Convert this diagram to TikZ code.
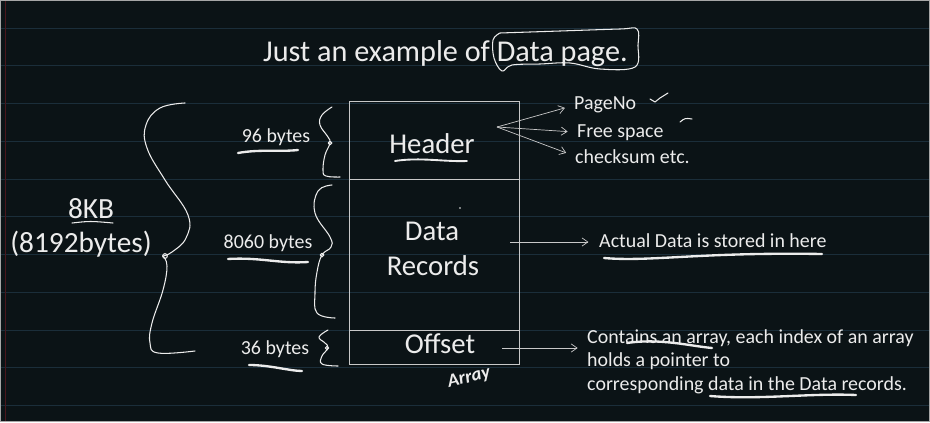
\documentclass[tikz,border=0pt]{standalone}
\usepackage{fontspec}
\setmainfont{Carlito}
\usetikzlibrary{arrows.meta, calc, positioning}
\definecolor{board}{RGB}{11,19,22}
\definecolor{ruling}{RGB}{27,46,58}
\definecolor{marginred}{RGB}{74,22,28}
\definecolor{chalk}{RGB}{236,236,236}
\definecolor{boxline}{RGB}{200,200,200}

\tikzset{
  txt/.style={text=chalk, inner sep=0pt},
  handline/.style={draw=chalk, line width=0.9pt, line cap=round, line join=round},
  scrawl/.style={draw=chalk, line width=2pt, line cap=round},
  pointer/.style={draw=boxline, line width=0.6pt, -{Straight Barb[length=5pt,width=7pt]}},
  pagepart/.style={draw=boxline, line width=0.7pt, minimum width=5.1cm, inner sep=0pt},
}

\begin{document}
\begin{tikzpicture}[x=0.03cm, y=-0.03cm]
    \fill[board] (0,0) rectangle (930,422);
    \useasboundingbox (0,0) rectangle (930,422);
    \foreach \k in {0,...,10}
        \draw[ruling, line width=0.8pt] (0,{28+37.75*\k}) -- (930,{28+37.75*\k});
    \draw[marginred, line width=1pt] (5.5,0) -- (5.5,422);
    \draw[gray!70, line width=0.8pt] (0.5,0.5) rectangle (929.5,421.5);

    % title
    \node[txt, anchor=base west, font=\fontsize{25.8}{30}\selectfont] (title) at (263,62) {Just an example of Data page.};
    \draw[handline] plot[smooth, tension=0.6] coordinates {(500,33) (560,31) (620,29) (637,29) (638,45) (635,67) (600,69) (570,63) (540,64) (512,65) (502,71) (494,58) (493,40) (500,33)};

    % the page
    \node[pagepart, minimum height=2.34cm] (header) at (434,140) {};
    \node[pagepart, minimum height=4.53cm] (records) at (434,254.5) {};
    \node[pagepart, minimum height=1.02cm] (offset) at (434,347) {};
    \node[txt, anchor=base, font=\fontsize{24.5}{30}\selectfont] (hdrtxt) at (432,153) {Header};
    \node[txt, anchor=base, font=\fontsize{24.5}{30}\selectfont] (datatxt) at (432,240) {Data};
    \node[txt, anchor=base, font=\fontsize{24.5}{30}\selectfont] (rectxt) at (433,275) {Records};
    \node[txt, anchor=base, font=\fontsize{24.5}{30}\selectfont] (offtxt) at (440,353) {Offset};
    \draw[handline, line width=1.6pt] (395,161) .. controls (420,157) and (445,162) .. (467,161);
    \fill[chalk] (460,208) circle[radius=0.8pt];
    \node[txt, rotate=14, font=\fontsize{16}{20}\selectfont\bfseries\itshape] (arraynote) at (469,378) {Array};

    % sizes
    \node[txt, anchor=base, font=\fontsize{25}{30}\selectfont] (kb) at (91,218) {8KB};
    \node[txt, anchor=base, font=\fontsize{25}{30}\selectfont] (kbbytes) at (81,252) {(8192bytes)};
    \draw[handline] (72,223) .. controls (90,221) .. (113,223);
    \node[txt, anchor=base, font=\fontsize{17}{20}\selectfont] (hdrsize) at (276,142) {96 bytes};
    \node[txt, anchor=base, font=\fontsize{17}{20}\selectfont] (recsize) at (268,248) {8060 bytes};
    \node[txt, anchor=base, font=\fontsize{17}{20}\selectfont] (offsize) at (275,354) {36 bytes};
    \draw[scrawl] (238,153) .. controls (260,149) and (280,152) .. (298,150);
    \draw[scrawl] (228,259) .. controls (260,257) and (280,264) .. (308,262);
    \draw[scrawl] (249,365) .. controls (270,365) and (290,371) .. (302,371);

    % braces
    \draw[handline] plot[smooth, tension=0.7] coordinates {(185,103) (160,108) (146,125) (147,148) (165,180) (188,215) (186,238) (172,252) (163,256)};
    \draw[handline] plot[smooth, tension=0.7] coordinates {(163,256) (167,266) (163,290) (152,323) (150,343) (158,353) (195,351)};
    \draw[handline] (165,256) circle[radius=2pt];
    \draw[handline] plot[smooth, tension=0.7] coordinates {(332,107) (322,115) (320,125) (328,137) (330,143) (325,155) (323,170) (326,176) (340,177)};
    \draw[handline] (330,143) circle[radius=1.6pt];
    \draw[handline] plot[smooth, tension=0.7] coordinates {(332,185) (318,191) (315,213) (330,237) (331,247) (322,255) (317,272) (315,293) (317,313) (335,318)};
    \draw[handline] (322,255) circle[radius=1.6pt];
    \draw[handline] plot[smooth, tension=0.7] coordinates {(328,330) (319,337) (325,343) (328,348) (322,356) (322,364) (338,366)};
    \draw[handline] (327,348) circle[radius=1.4pt];

    % header fields
    \node[txt, anchor=base west, font=\fontsize{17}{20}\selectfont] (pageno) at (574,110) {PageNo};
    \node[txt, anchor=base west, font=\fontsize{17}{20}\selectfont] (freespace) at (577,137) {Free space};
    \node[txt, anchor=base west, font=\fontsize{17}{20}\selectfont] (checksum) at (575,163) {checksum etc.};
    \coordinate (hdrfan) at (497,127);
    \draw[pointer, shorten >=8pt] (hdrfan) -- (pageno.west);
    \draw[pointer, shorten >=8pt] (hdrfan) -- (freespace.west);
    \draw[pointer, shorten >=8pt] (hdrfan) -- (checksum.west);
    \draw[handline] (650,99) -- (655,102) -- (660,98) -- (668,93);
    \draw[handline] (680,122) .. controls (685,118) .. (692,119);

    % records note
    \node[txt, anchor=base west, font=\fontsize{17}{20}\selectfont] (actual) at (599,247) {Actual Data is stored in here};
    \coordinate (recfrom) at (510,242);
    \draw[pointer, shorten >=9pt] (recfrom) -- (actual.west |- recfrom);
    \draw[scrawl] (604,258) .. controls (650,262) and (700,252) .. (822,254);

    % offset note
    \node[txt, anchor=base west, align=left, font=\fontsize{17}{20}\selectfont] (offnote) at (587,390)
        {Contains an array, each index of an array\\holds a pointer to\\corresponding data in the Data records.};
    \coordinate (offfrom) at (502,348);
    \draw[pointer, shorten >=8pt] (offfrom) -- (offnote.west |- offfrom);
    \draw[scrawl] (627,343) .. controls (660,338) and (690,346) .. (712,348);
    \draw[scrawl] (710,396) .. controls (760,400) and (810,393) .. (856,395);
\end{tikzpicture}
\end{document}
